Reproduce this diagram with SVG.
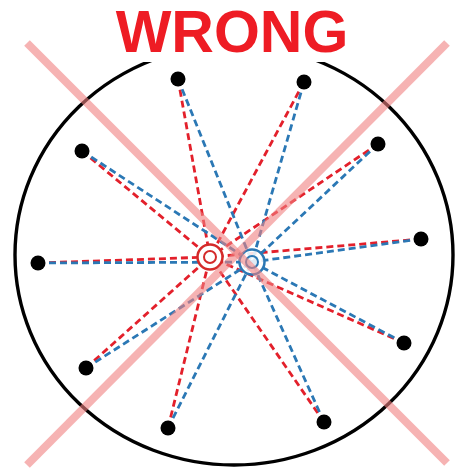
<svg xmlns="http://www.w3.org/2000/svg" width="462" height="472" viewBox="0 0 462 472">
<style>
.r{stroke:#e3202b;stroke-width:2.8;stroke-dasharray:7 4;fill:none}
.b{stroke:#2b78b5;stroke-width:2.8;stroke-dasharray:7 4;fill:none}
.dot{fill:#000}
.x{stroke:#f08080;stroke-opacity:0.6;stroke-width:8;stroke-linecap:butt}
</style>
<rect width="462" height="472" fill="#fff"/>
<ellipse cx="234" cy="255" rx="219" ry="210" fill="none" stroke="#000" stroke-width="3.4"/>
<rect x="138" y="0" width="188" height="62" fill="#fff"/>
<text x="232" y="52" font-family="Liberation Sans, Arial, sans-serif" font-weight="bold" font-size="59" fill="#ee1c24" text-anchor="middle">WRONG</text>
<g id="connectors">
<g class="r">
<line x1="178" y1="79" x2="210" y2="257"/>
<line x1="304" y1="82" x2="210" y2="257"/>
<line x1="82" y1="151" x2="210" y2="257"/>
<line x1="38" y1="263" x2="210" y2="257"/>
<line x1="378" y1="144" x2="210" y2="257"/>
<line x1="421" y1="239" x2="210" y2="257"/>
<line x1="86" y1="368" x2="210" y2="257"/>
<line x1="168" y1="428" x2="210" y2="257"/>
<line x1="324" y1="422" x2="210" y2="257"/>
<line x1="404" y1="343" x2="210" y2="257"/>
</g>
<g class="b">
<line x1="178" y1="79" x2="252" y2="262"/>
<line x1="304" y1="82" x2="252" y2="262"/>
<line x1="82" y1="151" x2="252" y2="262"/>
<line x1="38" y1="263" x2="252" y2="262"/>
<line x1="378" y1="144" x2="252" y2="262"/>
<line x1="421" y1="239" x2="252" y2="262"/>
<line x1="86" y1="368" x2="252" y2="262"/>
<line x1="168" y1="428" x2="252" y2="262"/>
<line x1="324" y1="422" x2="252" y2="262"/>
<line x1="404" y1="343" x2="252" y2="262"/>
</g>
</g>
<g id="nodes">
<circle id="n1" class="dot" cx="178" cy="79" r="7.5"/>
<circle id="n2" class="dot" cx="304" cy="82" r="7.5"/>
<circle id="n3" class="dot" cx="82" cy="151" r="7.5"/>
<circle id="n4" class="dot" cx="38" cy="263" r="7.5"/>
<circle id="n5" class="dot" cx="378" cy="144" r="7.5"/>
<circle id="n6" class="dot" cx="421" cy="239" r="7.5"/>
<circle id="n7" class="dot" cx="86" cy="368" r="7.5"/>
<circle id="n8" class="dot" cx="168" cy="428" r="7.5"/>
<circle id="n9" class="dot" cx="324" cy="422" r="7.5"/>
<circle id="n10" class="dot" cx="404" cy="343" r="7.5"/>
</g>
<g id="center-red">
<circle cx="210" cy="257" r="12.5" fill="#fff" stroke="#d42a2a" stroke-width="2.5"/>
<circle cx="210" cy="257" r="6" fill="none" stroke="#d42a2a" stroke-width="2"/>
</g>
<g id="center-blue">
<circle cx="252" cy="262" r="12.5" fill="#fff" fill-opacity="0.85" stroke="#2b78b5" stroke-width="2.5"/>
<circle cx="252" cy="262" r="6" fill="none" stroke="#2b78b5" stroke-width="2"/>
</g>
<g id="cross">
<line class="x" x1="27" y1="43" x2="447" y2="463"/>
<line class="x" x1="447" y1="43" x2="27" y2="465"/>
</g>
</svg>
